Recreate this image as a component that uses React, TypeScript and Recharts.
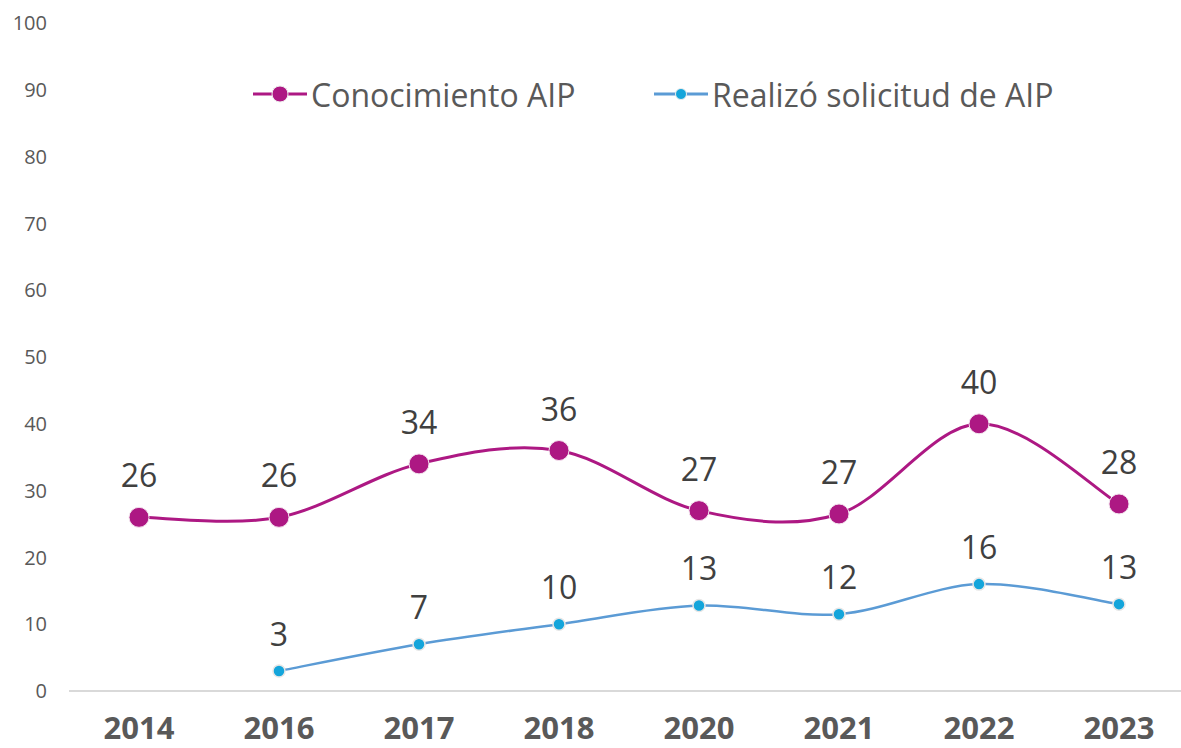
import { LabelList, Legend, Line, LineChart, XAxis, YAxis } from 'recharts';

const years = ['2014', '2016', '2017', '2018', '2020', '2021', '2022', '2023'];
const conocimiento = [26, 26, 34, 36, 27, 26.5, 40, 28];
const solicitud: (number | null)[] = [null, 3, 7, 10, 12.8, 11.5, 16, 13];
const yTicks = [0, 10, 20, 30, 40, 50, 60, 70, 80, 90, 100];

const MAGENTA = '#AD1883';
const BLUE_LINE = '#5B9BD5';
const BLUE_DOT = '#14A5DB';
const FONT = '"Open Sans", sans-serif';

const data = years.map((year, i) => ({
    year,
    conocimiento: conocimiento[i],
    solicitud: solicitud[i],
}));

// smoothing like Excel's "smoothed line" (catmull-rom through the points)
// eslint-disable-next-line @typescript-eslint/no-explicit-any
const smoothCurve = (context: any) => {
    let pts: [number, number][] = [];
    return {
        areaStart() {},
        areaEnd() {},
        lineStart() {
            pts = [];
        },
        lineEnd() {
            if (!pts.length) return;
            context.moveTo(pts[0][0], pts[0][1]);
            for (let i = 0; i < pts.length - 1; i++) {
                const p0 = pts[i - 1] || pts[i];
                const p1 = pts[i];
                const p2 = pts[i + 1];
                const p3 = pts[i + 2] || p2;
                context.bezierCurveTo(
                    p1[0] + (p2[0] - p0[0]) / 6,
                    p1[1] + (p2[1] - p0[1]) / 6,
                    p2[0] - (p3[0] - p1[0]) / 6,
                    p2[1] - (p3[1] - p1[1]) / 6,
                    p2[0],
                    p2[1]
                );
            }
        },
        point(x: number, y: number) {
            pts.push([+x, +y]);
        },
    };
};

const LegendItem = ({ color, lineColor, r, label, left }: {
    color: string; lineColor: string; r: number; label: string; left: number;
}) => (
    <div style={{ position: 'absolute', left, top: 0, display: 'flex', alignItems: 'center', height: 44 }}>
        <svg width={56} height={24}>
            <line x1={0} y1={12} x2={54} y2={12} stroke={lineColor} strokeWidth={3} />
            <circle cx={27} cy={12} r={r} fill={color} stroke="#eeeeee" strokeWidth={1} />
        </svg>
        <span style={{ fontFamily: FONT, fontSize: 32, color: '#595959', marginLeft: 2, whiteSpace: 'nowrap' }}>
            {label}
        </span>
    </div>
);

const renderLegend = () => (
    <div style={{ position: 'relative', width: 820, height: 44 }}>
        <LegendItem color={MAGENTA} lineColor={MAGENTA} r={8} label="Conocimiento AIP" left={0} />
        <LegendItem color={BLUE_DOT} lineColor={BLUE_LINE} r={5.5} label="Realizó solicitud de AIP" left={401} />
    </div>
);

const App = () => {
    return (
        <div style={{ position: 'absolute', left: 0, top: 0, width: 1181, height: 748, overflow: 'hidden', background: '#fff' }}>
            <LineChart width={1190} height={748} data={data} margin={{ top: 23, right: 1, left: 0, bottom: 0 }}>
                <XAxis
                    dataKey="year"
                    height={57}
                    padding={{ left: 70, right: 70 }}
                    tickLine={false}
                    axisLine={{ stroke: '#d9d9d9', strokeWidth: 2 }}
                    tickMargin={20}
                    tick={{ fontFamily: FONT, fontSize: 31, fontWeight: 700, fill: '#595959' }}
                />
                <YAxis
                    width={69}
                    domain={[0, 100]}
                    ticks={yTicks}
                    interval={0}
                    axisLine={false}
                    tickLine={false}
                    tickMargin={16}
                    tick={{ fontFamily: FONT, fontSize: 20, fill: '#595959' }}
                />
                <Legend
                    verticalAlign="middle"
                    content={renderLegend}
                    wrapperStyle={{ top: 72, left: 253, width: 820 }}
                />
                <Line
                    dataKey="conocimiento"
                    name="Conocimiento AIP"
                    type={smoothCurve}
                    stroke={MAGENTA}
                    strokeWidth={3}
                    dot={{ r: 10, fill: MAGENTA, stroke: '#f3e3ee', strokeWidth: 1 }}
                    isAnimationActive={false}
                >
                    <LabelList
                        dataKey="conocimiento"
                        position="top"
                        offset={30}
                        formatter={(v: number) => Math.round(v)}
                        style={{ fontFamily: FONT, fontSize: 32, fill: '#404040' }}
                    />
                </Line>
                <Line
                    dataKey="solicitud"
                    name="Realizó solicitud de AIP"
                    type={smoothCurve}
                    stroke={BLUE_LINE}
                    strokeWidth={2.5}
                    dot={{ r: 6, fill: BLUE_DOT, stroke: '#e6e6e6', strokeWidth: 1.5 }}
                    isAnimationActive={false}
                >
                    <LabelList
                        dataKey="solicitud"
                        position="top"
                        offset={25}
                        formatter={(v: number) => (v == null ? '' : Math.round(v))}
                        style={{ fontFamily: FONT, fontSize: 32, fill: '#404040' }}
                    />
                </Line>
            </LineChart>
        </div>
    );
};

export default App;
